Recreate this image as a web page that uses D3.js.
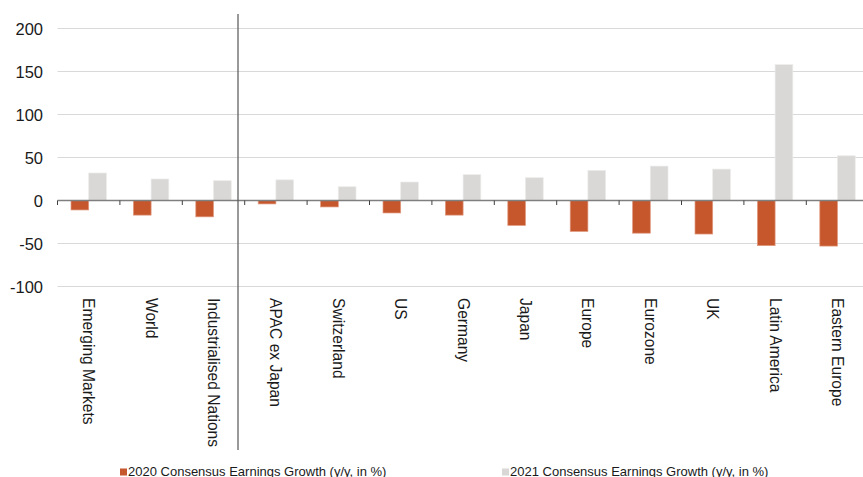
<html>
<head>
<script src="https://d3js.org/d3.v7.min.js"></script>
<style>
  body { margin: 0; background: #fff; }
  text { font-family: "Liberation Sans", Arial, sans-serif; fill: #1a1a1a; }
</style>
</head>
<body>
<svg id="chart" width="863" height="477"></svg>
<script>
// categories and values
const regions = ['Emerging Markets', 'World', 'Industrialised Nations', 'APAC ex Japan', 'Switzerland', 'US',
                 'Germany', 'Japan', 'Europe', 'Eurozone', 'UK', 'Latin America', 'Eastern Europe']
const growth2020 = [-11, -17, -19, -4, -7.5, -14.5, -17, -29, -36, -38, -39, -52.5, -53]
const growth2021 = [32, 25, 23, 24, 16, 21.5, 30, 26.5, 35, 40, 36.5, 158, 52]
const seriesNames = ['2020 Consensus Earnings Growth (y/y, in %)', '2021 Consensus Earnings Growth (y/y, in %)']
const yTicks = [-100, -50, 0, 50, 100, 150, 200]

const colors = ['#c6572d', '#d9d8d6']
const strokes = ['#e09a80', '#ecebea']

const svg = d3.select('svg#chart')
const left = 57.5, right = 868.7

const xScale = d3.scaleBand().domain(regions).range([left, right])
const barW = 17.7
const sScale = d3.scaleBand().domain([0, 1]).range([-barW, barW])
const yScale = d3.scaleLinear().domain([-100, 200]).range([286.5, 28.5])

// gridlines
svg.append('g')
   .selectAll('line').data(yTicks.filter(d => d !== 0))
   .join('line')
   .attr('x1', left).attr('x2', 863)
   .attr('y1', d => yScale(d)).attr('y2', d => yScale(d))
   .attr('stroke', '#d9d9d9').attr('stroke-width', 1)

// y labels
svg.append('g')
   .selectAll('text').data(yTicks)
   .join('text')
   .attr('x', 43).attr('y', d => yScale(d))
   .attr('text-anchor', 'end').attr('dominant-baseline', 'central')
   .style('font-size', '16.5px')
   .text(d => d)

// bars
const rows = regions.map((r, i) => ({region: r, vals: [growth2020[i], growth2021[i]]}))
const groups = svg.append('g').selectAll('g').data(rows).join('g')
   .attr('transform', d => `translate(${xScale(d.region) + xScale.bandwidth() / 2},0)`)

groups.selectAll('rect').data(d => d.vals.map((v, s) => ({v, s})))
   .join('rect')
   .attr('x', d => sScale(d.s))
   .attr('width', sScale.bandwidth())
   .attr('y', d => yScale(Math.max(0, d.v)))
   .attr('height', d => Math.abs(yScale(d.v) - yScale(0)))
   .attr('fill', d => colors[d.s])
   .attr('stroke', d => strokes[d.s])
   .attr('stroke-width', 0.7)

// zero line and category ticks
svg.append('line')
   .attr('x1', left).attr('x2', 863)
   .attr('y1', yScale(0)).attr('y2', yScale(0))
   .attr('stroke', '#7f7f7f').attr('stroke-width', 1.5)

svg.append('g')
   .selectAll('line').data(regions)
   .join('line')
   .attr('x1', d => xScale(d)).attr('x2', d => xScale(d))
   .attr('y1', yScale(0)).attr('y2', yScale(0) + 4.5)
   .attr('stroke', '#404040').attr('stroke-width', 1)

// divider between aggregates and regions
svg.append('line')
   .attr('x1', 238).attr('x2', 238)
   .attr('y1', 14).attr('y2', 450)
   .attr('stroke', '#555').attr('stroke-width', 1.2)

// category labels, rotated
svg.append('g')
   .selectAll('text').data(regions)
   .join('text')
   .attr('transform', d => `translate(${xScale(d) + xScale.bandwidth() / 2},298) rotate(90)`)
   .attr('dominant-baseline', 'central')
   .style('font-size', '15.6px')
   .text(d => d)

// legend
const legendX = [120, 502]
const legend = svg.append('g').selectAll('g').data(seriesNames).join('g')
   .attr('transform', (d, i) => `translate(${legendX[i]},0)`)
legend.append('rect')
   .attr('x', 0).attr('y', 468.5).attr('width', 7).attr('height', 7)
   .attr('fill', (d, i) => colors[i])
legend.append('text')
   .attr('x', 8).attr('y', 476)
   .style('font-size', '13px')
   .text(d => d)
</script>
</body>
</html>
